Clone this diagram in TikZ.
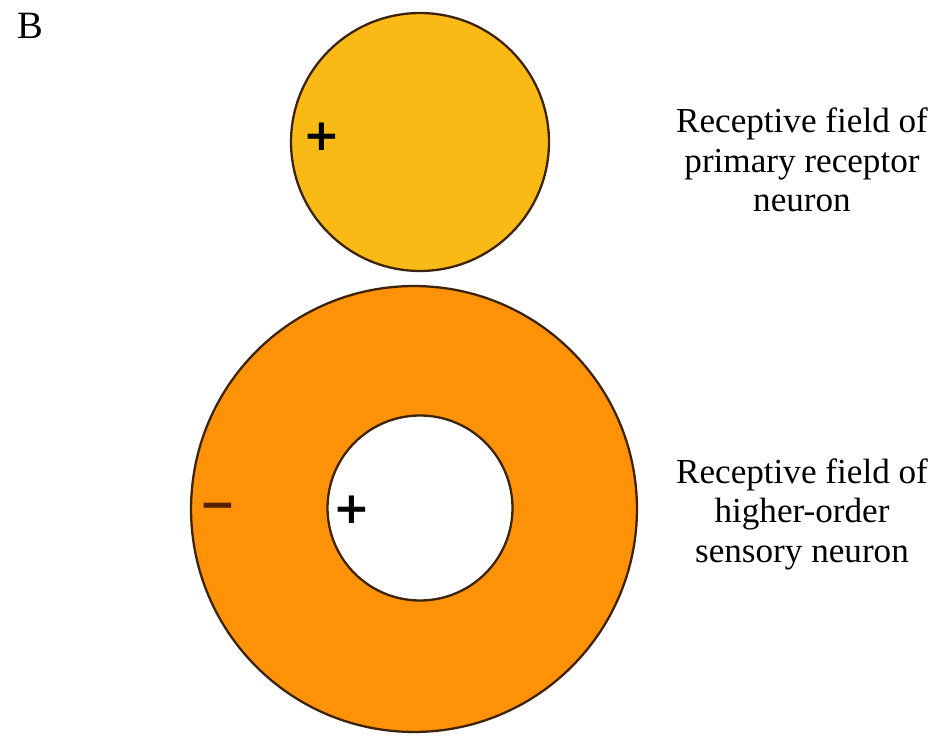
\documentclass[tikz,border=0pt]{standalone}
\usepackage{fontspec}
\setmainfont{Liberation Serif}
\newfontfamily\signfont{DejaVu Sans}
\usepackage{tikz}
\definecolor{fieldyellow}{RGB}{250,186,22}
\definecolor{fieldorange}{RGB}{255,146,6}
\definecolor{edgebrown}{RGB}{60,35,10}
\definecolor{minusbrown}{RGB}{85,30,0}

\tikzset{
  field/.style={circle,draw=edgebrown,line width=1.3pt,inner sep=0pt},
  sign/.style={font=\signfont\fontsize{25}{27}\selectfont\bfseries,inner sep=0pt},
  caption/.style={align=center,font=\fontsize{20}{22.5}\selectfont}
}

\begin{document}
\begin{tikzpicture}[x=0.02cm,y=-0.02cm]
        \useasboundingbox (0,0) rectangle (943,739);
        % panel letter
        \node (letter) [font=\fontsize{22}{24}\selectfont] at (30,26) {B};
        % primary receptor field
        \node (primary) [field,fill=fieldyellow,minimum size=5.16cm] at (420,142) {};
        \node (plusA) [sign] at (322,137) {+};
        % higher-order field: ring with white centre
        \node (outer) [field,fill=fieldorange,minimum size=8.92cm] at (414,509) {};
        \node (inner) [field,fill=white,minimum size=3.7cm] at (420,508) {};
        \node (minus) [sign,text=minusbrown] at (218,511) {−};
        \node (plusB) [sign] at (352,510) {+};
        % labels
        \node (capA) [caption] at (802,160) {Receptive field of\\primary receptor\\neuron};
        \node (capB) [caption] at (802,514) {Receptive field of\\higher-order\\sensory neuron};
    \end{tikzpicture}
\end{document}
